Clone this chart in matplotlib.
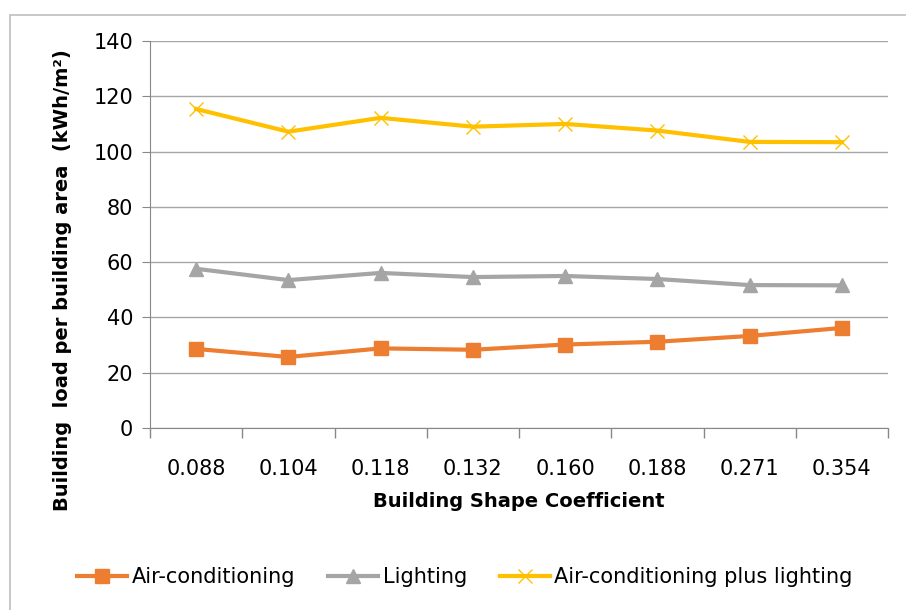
import matplotlib.pyplot as plt
from matplotlib.patches import Rectangle

# Building shape coefficient categories
shape_coeff = ['0.088', '0.104', '0.118', '0.132', '0.160', '0.188', '0.271', '0.354']

# Building load per building area (kWh/m2)
air_conditioning = [28.6, 25.7, 28.8, 28.3, 30.2, 31.2, 33.3, 36.2]
lighting = [57.6, 53.5, 56.1, 54.6, 55.0, 53.9, 51.7, 51.6]
ac_plus_lighting = [115.4, 107.2, 112.2, 109.0, 110.0, 107.6, 103.5, 103.4]

plt.rcParams['font.family'] = ['DejaVu Sans']

fig = plt.figure(figsize=(9.06, 6.10), dpi=100)
ax = fig.add_axes([150 / 906, 1 - 428 / 610, 738 / 906, 387 / 610])

# chart frame
fig.patches.append(Rectangle((10 / 906, -0.1), 1.2, 1.1 - 15 / 610,
                             transform=fig.transFigure, fill=False,
                             edgecolor='#bfbfbf', linewidth=1.2))

x = range(len(shape_coeff))
ax.plot(x, air_conditioning, color='#ED7D31', linewidth=3, marker='s',
        markersize=10, label='Air-conditioning')
ax.plot(x, lighting, color='#A5A5A5', linewidth=3, marker='^',
        markersize=10, label='Lighting')
ax.plot(x, ac_plus_lighting, color='#FFC000', linewidth=3, marker='x',
        markersize=10, markeredgewidth=1.0, label='Air-conditioning plus lighting')

ax.set_xlim(-0.5, len(shape_coeff) - 0.5)
ax.set_ylim(0, 140)
ax.set_yticks(range(0, 141, 20))
ax.set_xticks(list(x))
ax.set_xticklabels(shape_coeff, fontsize=15)
ax.tick_params(axis='x', length=0, pad=22)
ax.set_xticks([i - 0.5 for i in range(len(shape_coeff) + 1)], minor=True)
ax.tick_params(axis='x', which='minor', length=7, color='#888888', width=1)
ax.tick_params(axis='y', labelsize=15, length=6, color='#888888', pad=6)

ax.grid(axis='y', color='#a6a6a6', linewidth=1)
ax.set_axisbelow(True)
for side in ['top', 'right']:
    ax.spines[side].set_visible(False)
ax.spines['left'].set_color('#888888')
ax.spines['bottom'].set_color('#888888')

ax.set_xlabel('Building Shape Coefficient', fontsize=14, fontweight='bold',
              labelpad=10)
ax.set_ylabel('Building  load per building area  (kWh/m²)', fontsize=14,
              fontweight='bold')
ax.yaxis.set_label_coords(-0.106, 0.382)

fig.legend(loc='center', bbox_to_anchor=(465 / 906, 1 - 577 / 610), ncol=3,
           frameon=False, fontsize=15, handlelength=2.4, handletextpad=0.2,
           columnspacing=1.6)

fig.savefig('out.png', dpi=100)
